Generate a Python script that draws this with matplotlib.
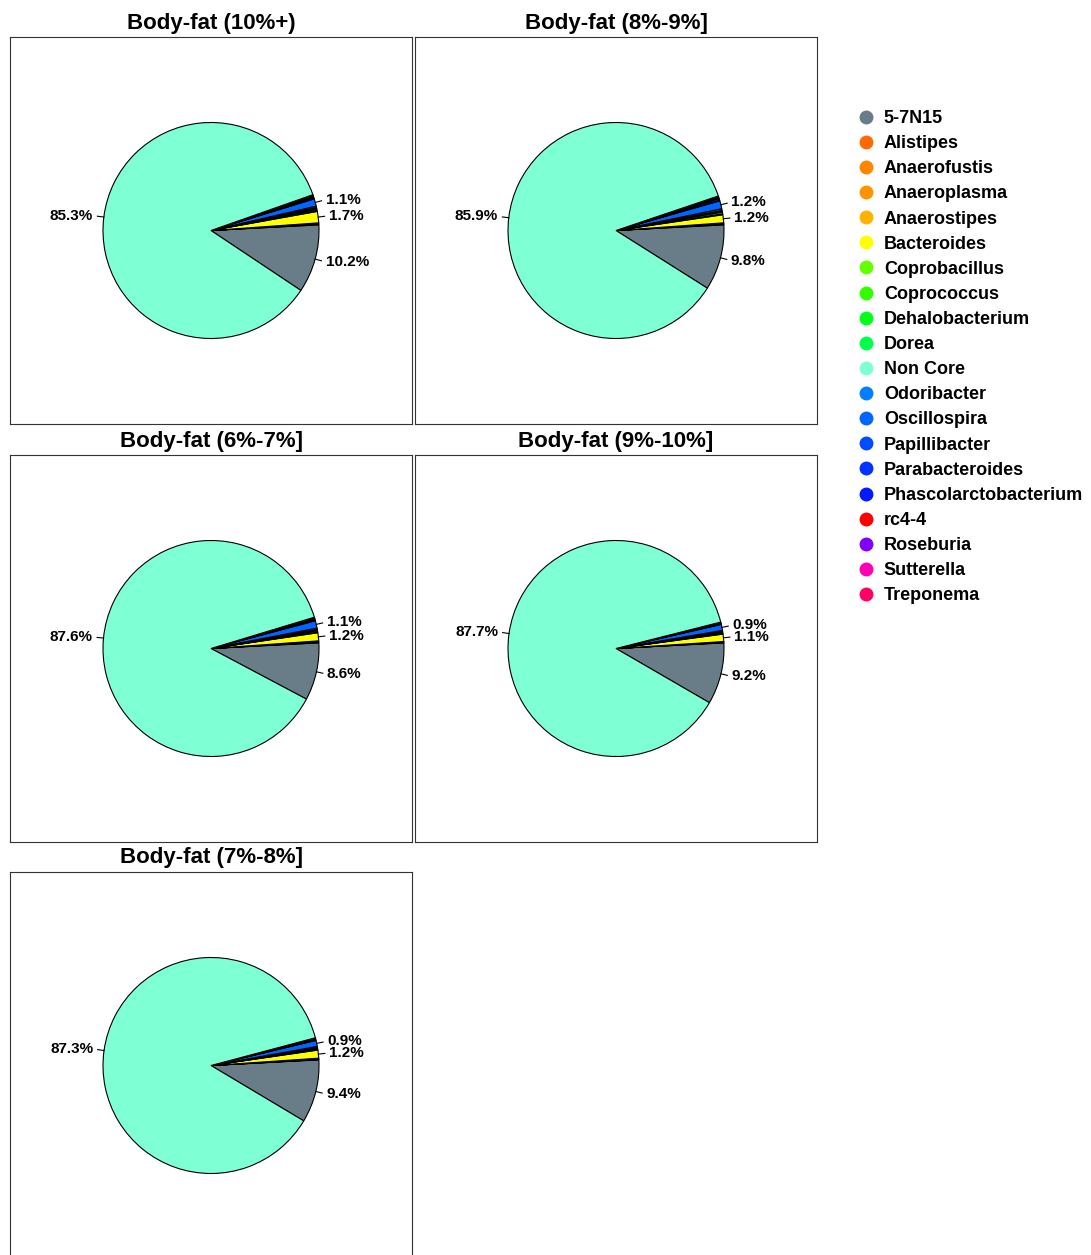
import numpy as np
import matplotlib.pyplot as plt
from matplotlib.lines import Line2D

plt.rcParams['font.family'] = ['Liberation Sans', 'DejaVu Sans']

W, H = 1091, 1255

taxa = ['5-7N15', 'Alistipes', 'Anaerofustis', 'Anaeroplasma', 'Anaerostipes', 'Bacteroides',
        'Coprobacillus', 'Coprococcus', 'Dehalobacterium', 'Dorea', 'Non Core', 'Odoribacter',
        'Oscillospira', 'Papillibacter', 'Parabacteroides', 'Phascolarctobacterium', 'rc4-4',
        'Roseburia', 'Sutterella', 'Treponema']
colors = ['#687d87', '#ff6a00', '#ff8400', '#ff9400', '#ffb300', '#ffff00', '#66ff00', '#33ff00',
          '#00ff19', '#00ff4c', '#7fffd4', '#0080ff', '#0066ff', '#004cff', '#0033ff', '#0019ff',
          '#ff0000', '#8000ff', '#ff00b3', '#ff0066']

titles = ['Body-fat (10%+)', 'Body-fat (8%-9%]', 'Body-fat (6%-7%]', 'Body-fat (9%-10%]', 'Body-fat (7%-8%]']
# percentages, same order as taxa
p_10plus = [10.2, .1, .05, .05, .1, 1.7, .15, .2, .15, .1, 85.3, .2, 1.1, .1, .2, .1, .05, .1, .05, .05]
p_8_9 = [9.8, .1, .05, .05, .1, 1.2, .15, .25, .15, .1, 85.9, .25, 1.2, .1, .25, .1, .05, .15, .05, .05]
p_6_7 = [8.6, .1, .05, .05, .1, 1.2, .1, .2, .1, .1, 87.6, .2, 1.1, .1, .1, .1, .05, .1, .05, .05]
p_9_10 = [9.2, .05, .05, .05, .05, 1.1, .1, .15, .1, .05, 87.7, .15, .9, .05, .1, .05, .05, .05, .02, .03]
p_7_8 = [9.4, .05, .05, .05, .1, 1.2, .1, .15, .1, .05, 87.3, .15, .9, .05, .15, .05, .05, .05, .03, .02]
panels = [p_10plus, p_8_9, p_6_7, p_9_10, p_7_8]

# slice order: grey, small taxa, Non Core last
order = [i for i in range(len(taxa)) if taxa[i] != 'Non Core'] + [taxa.index('Non Core')]

boxes = [(10, 37), (415, 37), (10, 455), (415, 455), (10, 872)]
bw, bh = 402, 387
R = 108

fig = plt.figure(figsize=(W / 100, H / 100), dpi=100)
for k, (x0, y0) in enumerate(boxes):
    ax = fig.add_axes([x0 / W, 1 - (y0 + bh) / H, bw / W, bh / H])
    vals = np.array([panels[k][i] for i in order])
    cols = [colors[i] for i in order]
    start = 3 - 3.6 * vals[0] / vals.sum() * 100
    wedges, _ = ax.pie(vals, colors=cols, startangle=start, counterclock=True,
                       wedgeprops=dict(edgecolor='black', linewidth=0.8))
    ax.set_xlim(-bw / 2 / R, bw / 2 / R)
    ax.set_ylim(-bh / 2 / R, bh / 2 / R)
    ax.set_aspect('auto')
    pct = vals / vals.sum() * 100
    for w, p in zip(wedges, pct):
        if p < 0.85:
            continue
        a = np.deg2rad((w.theta1 + w.theta2) / 2)
        c, s = np.cos(a), np.sin(a)
        ax.plot([c, 1.06 * c], [s, 1.06 * s], color='black', lw=0.8)
        ax.text(1.1 * c, 1.1 * s, f'{p:.1f}%', ha='left' if c > 0 else 'right', va='center',
                fontsize=11, fontweight='bold')
    ax.set_frame_on(True)
    for sp in ax.spines.values():
        sp.set_visible(True)
        sp.set_color('#333333')
        sp.set_linewidth(0.8)
    ax.set_xticks([])
    ax.set_yticks([])
    fig.text((x0 + bw / 2) / W, 1 - (y0 - 14) / H, titles[k], ha='center', va='center',
             fontsize=16, fontweight='bold')

handles = [Line2D([], [], marker='o', linestyle='', color=c, markersize=9) for c in colors]
leg = fig.legend(handles, taxa, loc='upper left', bbox_to_anchor=(855 / W, 1 - 110 / H),
                 frameon=False, prop=dict(size=13, weight='bold'), handletextpad=0.4,
                 handlelength=1.2, labelspacing=0.45, borderaxespad=0, borderpad=0)
fig.savefig('out.png', dpi=100)
